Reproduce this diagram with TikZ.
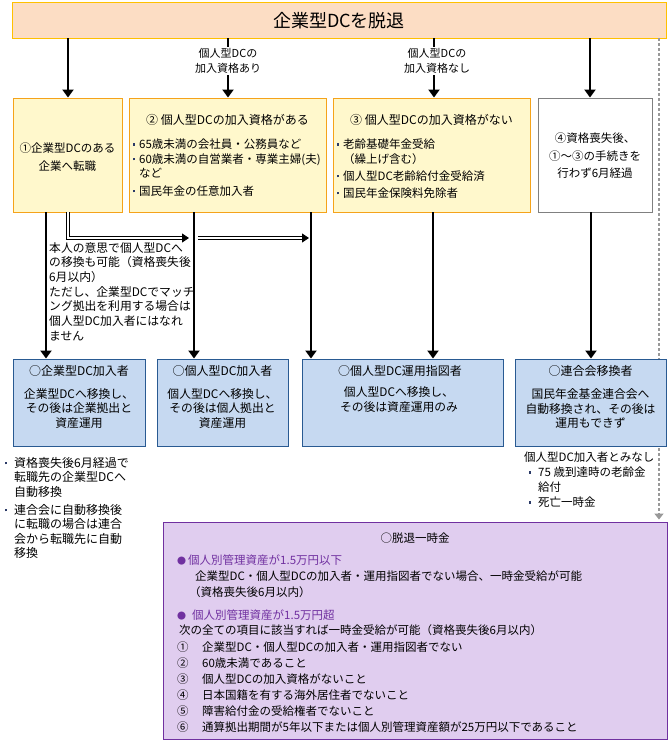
\documentclass[tikz,border=0pt]{standalone}
\usepackage{fontspec}
\setmainfont{Noto Sans CJK JP}
\usetikzlibrary{arrows.meta}
\definecolor{titlefill}{HTML}{FCDDC4}
\definecolor{titledraw}{HTML}{FFC000}
\definecolor{yfill}{HTML}{FFF8CC}
\definecolor{ydraw}{HTML}{F5A31A}
\definecolor{bfill}{HTML}{C6D9F1}
\definecolor{bdraw}{HTML}{295A92}
\definecolor{pfill}{HTML}{E0CDEF}
\definecolor{pdraw}{HTML}{7030A0}
\definecolor{gdraw}{HTML}{808080}
\definecolor{dotgray}{HTML}{999999}
\definecolor{bulcol}{HTML}{2B3A67}
\newcommand{\fs}[2]{\fontsize{#1}{#2}\selectfont}
\newcommand{\bul}[1][8]{\makebox[#1pt][l]{\hspace*{0.5pt}\textcolor{bulcol}{\raisebox{3pt}{\rule{2.6pt}{2.6pt}}}}}
\begin{document}
\begin{tikzpicture}[x=1pt,y=-1pt,
  box/.style={draw, line width=0.9pt, inner sep=0pt},
  titlebox/.style={box, draw=titledraw, fill=titlefill},
  ybox/.style={box, draw=ydraw, fill=yfill},
  wbox/.style={box, draw=gdraw, fill=white},
  bbox/.style={box, draw=bdraw, fill=bfill},
  pbox/.style={box, draw=pdraw, fill=pfill},
  ctext/.style={inner sep=0pt, align=center},
  ltext/.style={inner sep=0pt, align=left, anchor=north west},
  wtext/.style={inner sep=0pt, anchor=west},
  arr/.style={line width=2.6pt, -{Triangle[width=11pt,length=8pt]}},
  dbl/.style={double, double distance=2pt, line width=0.8pt, -{Triangle[width=9pt,length=7pt]}},
  dotarr/.style={line width=2.6pt, dotgray, dash pattern=on 2.5pt off 2.5pt, -{Triangle[width=9pt,length=6pt]}},
  lbl/.style={fill=white, inner sep=1pt, align=center, font=\fs{11}{15}}
]
\useasboundingbox (0,0) rectangle (671,741);

% title
\node[titlebox, minimum width=654, minimum height=36] (title) at (339,20) {};
\node[ctext, font=\fs{18}{20}] (ttext) at (339,21) {企業型DCを脱退};

% purple box
\node[pbox, minimum width=504, minimum height=217] (pb) at (415,630.5) {};

% dotted arrow
\coordinate (dx) at (659,0);
\draw[dotarr, shorten >=2pt] (title.south -| dx) -- (pb.north -| dx);

% row 2 boxes
\node[ybox, minimum width=109, minimum height=114] (b1) at (67.5,155) {};
\node[ybox, minimum width=197, minimum height=114] (b2) at (227.5,155) {};
\node[ybox, minimum width=197, minimum height=114] (b3) at (431.5,155) {};
\node[wbox, minimum width=114, minimum height=114] (b4) at (595,155) {};

\node[ctext, font=\fs{11.5}{18}] (t1) at (67.5,157) {①企業型DCのある\\企業へ転職};
\node[ctext, font=\fs{12}{14}] (t2) at (227.5,120) {② 個人型DCの加入資格がある};
\node[ltext, font=\fs{11.5}{14.5}] (t2l) at (132,139) {\bul[7]65歳未満の会社員・公務員など\\\bul[7]60歳未満の自営業者・専業主婦(夫)\\\hspace*{7pt}など\\[3pt]\bul[7]国民年金の任意加入者};
\node[ctext, font=\fs{12}{14}] (t3) at (431.5,120) {③ 個人型DCの加入資格がない};
\node[ltext, font=\fs{11.5}{14.5}] (t3l) at (336,139) {\bul[7]老齢基礎年金受給\\\hspace*{7pt}（繰上げ含む）\\[2.5pt]\bul[7]個人型DC老齢給付金受給済\\[2.5pt]\bul[7]国民年金保険料免除者};
\node[ctext, font=\fs{11.5}{17.5}] (t4) at (595,156) {④資格喪失後、\\①～③の手続きを\\行わず6月経過};

% arrows title -> row 2
\coordinate (x1) at (68,0);
\coordinate (x2) at (228,0);
\coordinate (x3) at (434,0);
\coordinate (x4) at (590,0);
\draw[arr] (title.south -| x1) -- (b1.north -| x1);
\draw[arr] (title.south -| x2) -- (b2.north -| x2);
\draw[arr] (title.south -| x3) -- (b3.north -| x3);
\draw[arr] (title.south -| x4) -- (b4.north -| x4);
\node[lbl] (l1) at (228,61) {個人型DCの\\加入資格あり};
\node[lbl] (l2) at (437,61) {個人型DCの\\加入資格なし};

% row 3 boxes
\node[bbox, minimum width=132, minimum height=87] (c1) at (79,402.5) {};
\node[bbox, minimum width=131, minimum height=87] (c2) at (222.5,402.5) {};
\node[bbox, minimum width=201, minimum height=87] (c3) at (402.5,402.5) {};
\node[bbox, minimum width=151, minimum height=87] (c4) at (590.5,402.5) {};

\node[ctext, font=\fs{12}{14}] (c1t) at (79,371) {○企業型DC加入者};
\node[ctext, font=\fs{11.8}{14.5}] (c1b) at (79,408.5) {企業型DCへ移換し、\\その後は企業拠出と\\資産運用};
\node[ctext, font=\fs{12}{14}] (c2t) at (222.5,371) {○個人型DC加入者};
\node[ctext, font=\fs{11.8}{14.5}] (c2b) at (222.5,408.5) {個人型DCへ移換し、\\その後は個人拠出と\\資産運用};
\node[ctext, font=\fs{12}{14}] (c3t) at (400,371) {○個人型DC運用指図者};
\node[ctext, font=\fs{11.8}{15}] (c3b) at (399,399.5) {個人型DCへ移換し、\\その後は資産運用のみ};
\node[ctext, font=\fs{12}{14}] (c4t) at (590.5,371) {○連合会移換者};
\node[ctext, font=\fs{11.8}{14.5}] (c4b) at (590.5,409) {国民年金基金連合会へ\\自動移換され、その後は\\運用もできず};

% arrows row 2 -> row 3
\coordinate (y1) at (46,0);
\coordinate (y2) at (194,0);
\coordinate (y3) at (311,0);
\coordinate (y4) at (433,0);
\coordinate (y5) at (591,0);
\draw[arr] (b1.south -| y1) -- (c1.north -| y1);
\draw[arr] (b2.south -| y2) -- (c2.north -| y2);
\draw[arr] (b2.south -| y3) -- (c3.north -| y3);
\draw[arr] (b3.south -| y4) -- (c3.north -| y4);
\draw[arr] (b4.south -| y5) -- (c4.north -| y5);

% double arrows
\coordinate (j1) at (68,238);
\coordinate (q1) at (189,238);
\coordinate (q2) at (198,238);
\coordinate (q3) at (309,238);
\draw[dbl] (b1.south -| j1) -- (j1) -- (q1);
\draw[dbl] (q2) -- (q3);

% middle note
\node[ltext, font=\fs{11.8}{14.7}] (note) at (49,242) {本人の意思で個人型DCへ\\の移換も可能（資格喪失後\\6月以内）\\ただし、企業型DCでマッチ\\ング拠出を利用する場合は\\個人型DC加入者にはなれ\\ません};

% below c1
\node[ltext, font=\fs{12}{14.5}] (n1) at (4,457) {\bul[10]資格喪失後6月経過で\\\hspace*{10pt}転職先の企業型DCへ\\\hspace*{10pt}自動移換\\[3.5pt]\bul[10]連合会に自動移換後\\\hspace*{10pt}に転職の場合は連合\\\hspace*{10pt}会から転職先に自動\\\hspace*{10pt}移換};

% below c4
\node[wtext, font=\fs{11.5}{14}] (n2) at (524,457) {個人型DC加入者とみなし};
\node[ltext, font=\fs{11.5}{15}] (n3) at (528,467) {\bul[10]75 歳到達時の老齢金\\\hspace*{10pt}給付\\\bul[10]死亡一時金};

% purple contents
\node[ctext, font=\fs{11.5}{14}] (p0) at (415,538) {○脱退一時金};
\node[wtext, font=\fs{11.5}{14}, text=pdraw] (p1) at (177,560) {\makebox[11pt][l]{\fs{9}{9}●}個人別管理資産が1.5万円以下};
\node[ltext, font=\fs{11.5}{16}] (p2) at (189,571) {\hspace*{6pt}企業型DC・個人型DCの加入者・運用指図者でない場合、一時金受給が可能\\（資格喪失後6月以内）};
\node[wtext, font=\fs{11.5}{14}, text=pdraw] (p3) at (177,615) {\makebox[15pt][l]{\fs{9}{9}●}個人別管理資産が1.5万円超};
\node[wtext, font=\fs{11.5}{14}] (p4) at (179,630) {次の全ての項目に該当すれば一時金受給が可能（資格喪失後6月以内）};
\node[ltext, font=\fs{11.5}{16}] (p5) at (177,642) {\makebox[25pt][l]{①}企業型DC・個人型DCの加入者・運用指図者でない\\\makebox[25pt][l]{②}60歳未満であること\\\makebox[25pt][l]{③}個人型DCの加入資格がないこと\\\makebox[25pt][l]{④}日本国籍を有する海外居住者でないこと\\\makebox[25pt][l]{⑤}障害給付金の受給権者でないこと\\\makebox[25pt][l]{⑥}通算拠出期間が5年以下または個人別管理資産額が25万円以下であること};
\end{tikzpicture}
\end{document}
